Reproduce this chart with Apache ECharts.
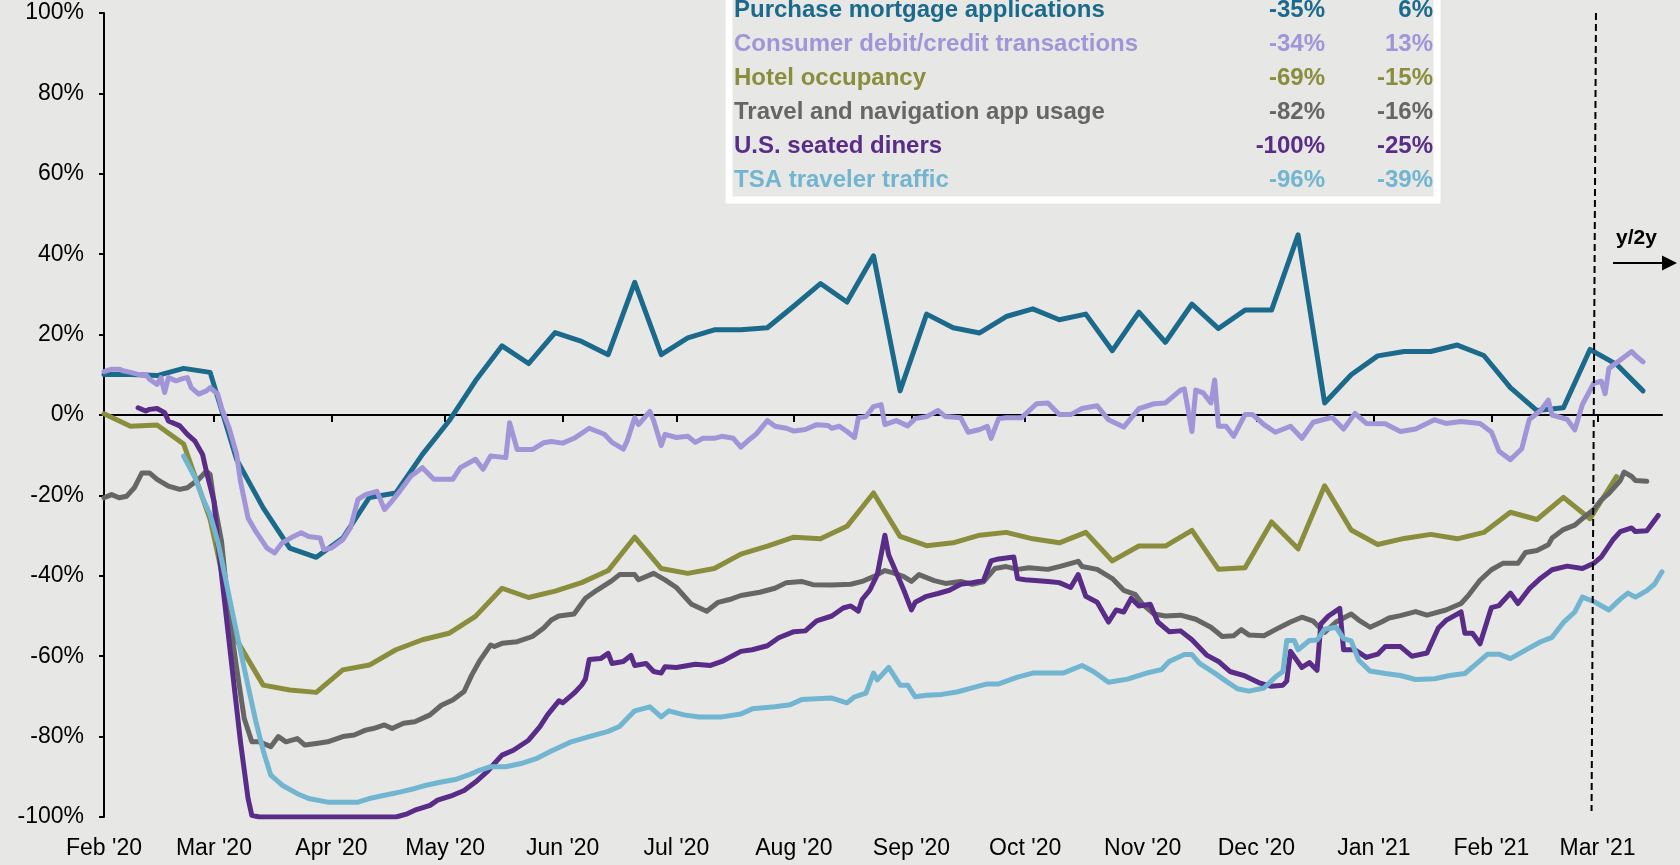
<!DOCTYPE html>
<html>
<head>
<meta charset="utf-8">
<script src="https://cdn.jsdelivr.net/npm/echarts@6/dist/echarts.min.js"></script>
<style>
  html, body { margin: 0; padding: 0; background: #e7e7e5; }
  #chart { width: 1680px; height: 865px; }
</style>
</head>
<body>
<div id="chart"></div>
<script>
// month ticks on the x axis
const monthTicks = ['2020-02-01', '2020-03-01', '2020-04-01', '2020-05-01', '2020-06-01', '2020-07-01',
  '2020-08-01', '2020-09-01', '2020-10-01', '2020-11-01', '2020-12-01', '2021-01-01', '2021-02-01', '2021-03-01'];

const seriesNames = ['Purchase mortgage applications', 'Consumer debit/credit transactions', 'Hotel occupancy',
  'Travel and navigation app usage', 'U.S. seated diners', 'TSA traveler traffic'];
// table columns: trough and latest
const troughs = [-35, -34, -69, -82, -100, -96];
const latest = [6, 13, -15, -16, -25, -39];

// weekly series
const weeklyDates = ['2020-02-01', '2020-02-08', '2020-02-15', '2020-02-22', '2020-02-29',
  '2020-03-07', '2020-03-14', '2020-03-21', '2020-03-28',
  '2020-04-04', '2020-04-11', '2020-04-18', '2020-04-25',
  '2020-05-02', '2020-05-09', '2020-05-16', '2020-05-23', '2020-05-30',
  '2020-06-06', '2020-06-13', '2020-06-20', '2020-06-27',
  '2020-07-04', '2020-07-11', '2020-07-18', '2020-07-25',
  '2020-08-01', '2020-08-08', '2020-08-15', '2020-08-22', '2020-08-29',
  '2020-09-05', '2020-09-12', '2020-09-19', '2020-09-26',
  '2020-10-03', '2020-10-10', '2020-10-17', '2020-10-24', '2020-10-31',
  '2020-11-07', '2020-11-14', '2020-11-21', '2020-11-28',
  '2020-12-05', '2020-12-12', '2020-12-19', '2020-12-26',
  '2021-01-02', '2021-01-09', '2021-01-16', '2021-01-23', '2021-01-30',
  '2021-02-06', '2021-02-13', '2021-02-20', '2021-02-27',
  '2021-03-06', '2021-03-13'];

const mortgage = [10.1, 10.1, 9.8, 11.6, 10.6,
  -11.1, -23.1, -33.1, -35.4,
  -30.6, -20.5, -19.4, -9.8,
  -1.5, 8.5, 17.2, 12.8, 20.5,
  18.3, 15.0, 33.0, 15.0,
  19.2, 21.2, 21.2, 21.7,
  27.1, 32.7, 28.1, 39.6, 6.0,
  25.1, 21.7, 20.4, 24.5,
  26.4, 23.7, 25.1, 16.0, 25.6,
  18.1, 27.6, 21.5, 26.1,
  26.1, 44.8, 3.0, 10.0,
  14.7, 15.8, 15.8, 17.4, 14.8,
  6.8, 1.1, 1.8, 16.3,
  12.6, 6.0];

const hotel = [0.3, -2.8, -2.5, -7.2, -26,
  -56, -67.2, -68.4, -69.0,
  -63.4, -62.2, -58.4, -55.9,
  -54.3, -50.1, -43.1, -45.4, -43.8,
  -41.7, -38.7, -30.4, -38.2,
  -39.4, -38.2, -34.6, -32.6,
  -30.4, -30.8, -27.7, -19.4, -30.2,
  -32.5, -31.8, -29.9, -29.2,
  -30.8, -31.8, -29.2, -36.3, -32.6,
  -32.6, -28.7, -38.4, -38.0,
  -26.6, -33.3, -17.6, -28.6,
  -32.2, -30.7, -29.7, -30.8, -29.2,
  -24.2, -26.0, -20.5, -25.8,
  -15.3];

// daily series, [date, value]
const consumer = [
  ['2020-2-1', 10.8], ['2020-2-3', 11.4], ['2020-2-5', 11.4], ['2020-2-6', 11.0], ['2020-2-8', 10.6],
  ['2020-2-10', 10.1], ['2020-2-12', 10.1], ['2020-2-13', 8.9], ['2020-2-15', 7.6], ['2020-2-16', 9.3],
  ['2020-2-17', 5.6], ['2020-2-18', 9.3], ['2020-2-20', 8.5], ['2020-2-22', 9.1], ['2020-2-23', 9.3],
  ['2020-2-24', 6.8], ['2020-2-26', 5.2], ['2020-2-28', 6.0], ['2020-2-29', 6.8], ['2020-3-2', 5.2],
  ['2020-3-3', 1.8], ['2020-3-5', -3.2], ['2020-3-7', -9.8], ['2020-3-8', -16.5], ['2020-3-10', -25.6],
  ['2020-3-12', -28.9], ['2020-3-15', -33.1], ['2020-3-17', -34.3], ['2020-3-19', -31.8], ['2020-3-22', -30.2],
  ['2020-3-24', -29.3], ['2020-3-26', -30.2], ['2020-3-29', -30.6], ['2020-3-30', -33.5], ['2020-4-1', -33.1],
  ['2020-4-4', -31.0], ['2020-4-6', -28.1], ['2020-4-8', -21.0], ['2020-4-10', -19.8], ['2020-4-13', -19.0],
  ['2020-4-15', -23.5], ['2020-4-17', -21.4], ['2020-4-19', -19.0], ['2020-4-22', -15.2], ['2020-4-25', -13.1],
  ['2020-4-28', -16.0], ['2020-5-3', -16.0], ['2020-5-5', -13.1], ['2020-5-9', -11.0], ['2020-5-11', -13.5],
  ['2020-5-13', -10.2], ['2020-5-17', -10.6], ['2020-5-18', -1.9], ['2020-5-20', -8.6], ['2020-5-24', -8.6],
  ['2020-5-27', -6.9], ['2020-5-29', -6.6], ['2020-6-1', -7.0], ['2020-6-4', -5.8], ['2020-6-8', -3.3],
  ['2020-6-12', -4.8], ['2020-6-14', -6.8], ['2020-6-17', -8.5], ['2020-6-18', -6.5], ['2020-6-20', -0.7],
  ['2020-6-21', -2.4], ['2020-6-24', 0.9], ['2020-6-25', -1.4], ['2020-6-27', -7.6], ['2020-6-28', -4.8],
  ['2020-7-1', -5.6], ['2020-7-4', -5.3], ['2020-7-6', -6.8], ['2020-7-8', -5.8], ['2020-7-11', -5.8],
  ['2020-7-13', -5.3], ['2020-7-16', -5.8], ['2020-7-18', -8.0], ['2020-7-20', -6.3], ['2020-7-22', -4.8],
  ['2020-7-25', -1.4], ['2020-7-27', -2.8], ['2020-7-30', -3.3], ['2020-8-1', -4.0], ['2020-8-4', -3.6],
  ['2020-8-7', -2.4], ['2020-8-10', -2.6], ['2020-8-11', -3.3], ['2020-8-13', -2.8], ['2020-8-15', -4.1],
  ['2020-8-17', -5.6], ['2020-8-18', -0.7], ['2020-8-20', -0.4], ['2020-8-22', 2.1], ['2020-8-24', 2.6],
  ['2020-8-25', -2.4], ['2020-8-28', -1.4], ['2020-8-31', -2.7], ['2020-9-2', -0.9], ['2020-9-5', -0.4],
  ['2020-9-8', 1.1], ['2020-9-10', -0.4], ['2020-9-14', -0.7], ['2020-9-16', -4.3], ['2020-9-19', -3.6],
  ['2020-9-21', -2.8], ['2020-9-22', -5.8], ['2020-9-24', -0.9], ['2020-9-26', -0.7], ['2020-9-30', -0.7],
  ['2020-10-4', 2.8], ['2020-10-7', 3.0], ['2020-10-10', 0.1], ['2020-10-13', 0.1], ['2020-10-16', 1.6],
  ['2020-10-20', 2.3], ['2020-10-23', -1.2], ['2020-10-27', -3.0], ['2020-10-31', 1.6], ['2020-11-4', 2.8],
  ['2020-11-7', 3.0], ['2020-11-11', 6.2], ['2020-11-12', 6.5], ['2020-11-14', -4.1], ['2020-11-15', 6.2],
  ['2020-11-17', 5.5], ['2020-11-19', 3.0], ['2020-11-20', 8.7], ['2020-11-21', -2.8], ['2020-11-23', -2.8],
  ['2020-11-25', -5.3], ['2020-11-28', 0.1], ['2020-11-30', 0.1], ['2020-12-3', -2.4], ['2020-12-6', -4.3],
  ['2020-12-10', -2.8], ['2020-12-13', -5.8], ['2020-12-16', -1.8], ['2020-12-21', -0.6], ['2020-12-24', -3.5],
  ['2020-12-27', 0.4], ['2020-12-30', -2.1], ['2021-1-4', -2.2], ['2021-1-8', -4.1], ['2021-1-12', -3.5],
  ['2021-1-17', -1.2], ['2021-1-20', -2.1], ['2021-1-24', -1.6], ['2021-1-29', -2.1], ['2021-2-1', -4.2],
  ['2021-2-3', -9.0], ['2021-2-6', -11.1], ['2021-2-9', -8.4], ['2021-2-11', -1.1], ['2021-2-14', 1.1],
  ['2021-2-16', 3.7], ['2021-2-17', 0.0], ['2021-2-21', -1.1], ['2021-2-23', -3.7], ['2021-2-25', 2.6],
  ['2021-2-28', 7.9], ['2021-3-2', 8.4], ['2021-3-3', 5.3], ['2021-3-4', 11.6], ['2021-3-7', 13.7],
  ['2021-3-10', 15.8], ['2021-3-11', 14.8], ['2021-3-13', 13.2]
];

const travel = [
  ['2020-2-1', -20.6], ['2020-2-3', -19.8], ['2020-2-5', -20.6], ['2020-2-7', -20.2], ['2020-2-9', -18.1],
  ['2020-2-11', -14.4], ['2020-2-13', -14.4], ['2020-2-15', -16.0], ['2020-2-18', -17.7], ['2020-2-21', -18.5],
  ['2020-2-23', -18.1], ['2020-2-26', -16.0], ['2020-2-28', -14.0], ['2020-2-29', -14.8], ['2020-3-1', -21.4],
  ['2020-3-3', -31.4], ['2020-3-5', -49.7], ['2020-3-7', -63.0], ['2020-3-9', -75.5], ['2020-3-11', -81.3],
  ['2020-3-13', -81.3], ['2020-3-16', -82.5], ['2020-3-18', -80.0], ['2020-3-20', -81.3], ['2020-3-23', -80.5],
  ['2020-3-25', -82.1], ['2020-3-28', -81.7], ['2020-3-31', -81.3], ['2020-4-4', -80.0], ['2020-4-7', -79.6],
  ['2020-4-10', -78.4], ['2020-4-12', -78.0], ['2020-4-15', -77.1], ['2020-4-17', -78.0], ['2020-4-20', -76.7],
  ['2020-4-23', -76.3], ['2020-4-27', -74.6], ['2020-4-30', -72.2], ['2020-5-3', -70.9], ['2020-5-6', -68.8],
  ['2020-5-8', -64.7], ['2020-5-10', -61.3], ['2020-5-13', -57.2], ['2020-5-14', -57.6], ['2020-5-16', -56.8],
  ['2020-5-20', -56.4], ['2020-5-24', -55.1], ['2020-5-27', -53.0], ['2020-5-29', -51.0], ['2020-5-31', -50.0],
  ['2020-6-4', -49.5], ['2020-6-7', -45.6], ['2020-6-10', -43.6], ['2020-6-14', -41.2], ['2020-6-16', -39.7],
  ['2020-6-20', -39.7], ['2020-6-21', -41.0], ['2020-6-25', -39.4], ['2020-6-28', -41.0], ['2020-7-1', -42.9],
  ['2020-7-5', -47.1], ['2020-7-9', -48.8], ['2020-7-12', -46.6], ['2020-7-15', -45.9], ['2020-7-18', -44.9],
  ['2020-7-23', -44.1], ['2020-7-27', -43.1], ['2020-7-30', -41.7], ['2020-8-3', -41.4], ['2020-8-6', -42.2],
  ['2020-8-11', -42.3], ['2020-8-16', -42.1], ['2020-8-19', -41.4], ['2020-8-22', -40.2], ['2020-8-25', -38.7],
  ['2020-8-27', -39.2], ['2020-8-30', -40.2], ['2020-9-1', -41.4], ['2020-9-3', -39.7], ['2020-9-7', -41.2],
  ['2020-9-10', -41.9], ['2020-9-14', -41.4], ['2020-9-17', -42.1], ['2020-9-20', -41.5], ['2020-9-23', -38.2],
  ['2020-9-26', -37.7], ['2020-9-29', -38.4], ['2020-10-2', -38.0], ['2020-10-7', -38.4], ['2020-10-10', -37.7],
  ['2020-10-15', -36.4], ['2020-10-16', -37.7], ['2020-10-20', -38.4], ['2020-10-24', -40.7], ['2020-10-27', -43.6],
  ['2020-10-30', -44.6], ['2020-11-1', -47.1], ['2020-11-4', -49.5], ['2020-11-7', -50.0], ['2020-11-11', -49.8],
  ['2020-11-15', -50.8], ['2020-11-19', -52.8], ['2020-11-22', -55.1], ['2020-11-25', -54.9], ['2020-11-27', -53.4],
  ['2020-11-29', -54.7], ['2020-12-3', -54.9], ['2020-12-7', -52.9], ['2020-12-10', -51.5], ['2020-12-13', -50.3],
  ['2020-12-16', -51.3], ['2020-12-19', -54.1], ['2020-12-22', -51.5], ['2020-12-26', -49.5], ['2020-12-28', -51.0],
  ['2020-12-31', -52.8], ['2021-1-3', -51.5], ['2021-1-5', -50.5], ['2021-1-8', -49.9], ['2021-1-12', -48.9],
  ['2021-1-15', -49.8], ['2021-1-20', -48.5], ['2021-1-24', -46.9], ['2021-1-26', -44.8], ['2021-1-29', -41.1],
  ['2021-2-1', -38.5], ['2021-2-4', -36.9], ['2021-2-8', -36.9], ['2021-2-10', -34.2], ['2021-2-13', -33.7],
  ['2021-2-16', -32.3], ['2021-2-17', -30.6], ['2021-2-20', -28.5], ['2021-2-23', -27.4], ['2021-2-25', -25.8],
  ['2021-2-28', -23.5], ['2021-3-2', -21.1], ['2021-3-4', -19.5], ['2021-3-7', -16.3], ['2021-3-8', -14.2],
  ['2021-3-10', -15.3], ['2021-3-11', -16.3], ['2021-3-14', -16.5]
];

const diners = [
  ['2020-2-10', 1.8], ['2020-2-12', 1.0], ['2020-2-13', 1.4], ['2020-2-15', 1.6], ['2020-2-17', 0.6],
  ['2020-2-18', -1.5], ['2020-2-21', -2.7], ['2020-2-23', -4.8], ['2020-2-25', -6.5], ['2020-2-27', -9.8],
  ['2020-2-28', -14.0], ['2020-3-1', -21.4], ['2020-3-2', -31.4], ['2020-3-4', -48.0], ['2020-3-6', -64.7],
  ['2020-3-8', -81.3], ['2020-3-10', -95.4], ['2020-3-11', -99.6], ['2020-3-13', -100], ['2020-4-18', -100],
  ['2020-4-21', -99.2], ['2020-4-23', -98.3], ['2020-4-27', -97.1], ['2020-4-29', -95.8], ['2020-5-3', -94.6],
  ['2020-5-6', -93.4], ['2020-5-9', -91.3], ['2020-5-12', -88.8], ['2020-5-14', -86.7], ['2020-5-16', -84.6],
  ['2020-5-19', -83.4], ['2020-5-23', -80.9], ['2020-5-26', -77.5], ['2020-5-28', -74.6], ['2020-5-31', -71.1],
  ['2020-6-1', -71.6], ['2020-6-4', -69.2], ['2020-6-6', -67.2], ['2020-6-7', -65.7], ['2020-6-8', -60.8],
  ['2020-6-11', -60.6], ['2020-6-13', -59.3], ['2020-6-14', -61.8], ['2020-6-17', -61.3], ['2020-6-19', -59.8],
  ['2020-6-20', -62.3], ['2020-6-23', -61.8], ['2020-6-25', -63.8], ['2020-6-27', -64.2], ['2020-6-28', -62.6],
  ['2020-7-1', -62.8], ['2020-7-6', -62.0], ['2020-7-10', -62.3], ['2020-7-13', -61.3], ['2020-7-18', -58.8],
  ['2020-7-21', -58.4], ['2020-7-25', -57.4], ['2020-7-28', -55.4], ['2020-8-1', -53.9], ['2020-8-4', -53.7],
  ['2020-8-7', -51.2], ['2020-8-11', -50.0], ['2020-8-14', -48.0], ['2020-8-16', -47.5], ['2020-8-18', -48.8],
  ['2020-8-19', -45.9], ['2020-8-21', -43.6], ['2020-8-23', -39.7], ['2020-8-25', -29.9], ['2020-8-26', -34.8],
  ['2020-8-28', -39.2], ['2020-8-30', -43.6], ['2020-9-1', -48.5], ['2020-9-2', -46.6], ['2020-9-5', -45.1],
  ['2020-9-8', -44.4], ['2020-9-11', -43.6], ['2020-9-14', -42.1], ['2020-9-17', -41.7], ['2020-9-20', -41.2],
  ['2020-9-22', -36.3], ['2020-9-24', -35.8], ['2020-9-28', -35.3], ['2020-9-29', -40.7], ['2020-10-1', -41.0],
  ['2020-10-7', -41.4], ['2020-10-10', -41.7], ['2020-10-13', -42.9], ['2020-10-15', -39.7], ['2020-10-17', -45.1],
  ['2020-10-20', -46.6], ['2020-10-23', -51.5], ['2020-10-25', -48.5], ['2020-10-27', -49.0], ['2020-10-29', -45.6],
  ['2020-10-31', -47.5], ['2020-11-3', -47.1], ['2020-11-5', -51.5], ['2020-11-8', -53.9], ['2020-11-11', -53.7],
  ['2020-11-14', -55.9], ['2020-11-18', -59.8], ['2020-11-21', -61.3], ['2020-11-24', -63.8], ['2020-11-28', -64.9],
  ['2020-12-2', -66.7], ['2020-12-5', -67.5], ['2020-12-8', -67.2], ['2020-12-9', -66.2], ['2020-12-10', -58.8],
  ['2020-12-13', -62.8], ['2020-12-15', -61.6], ['2020-12-17', -63.5], ['2020-12-18', -52.0], ['2020-12-20', -50.0],
  ['2020-12-23', -48.1], ['2020-12-24', -58.4], ['2020-12-27', -58.4], ['2020-12-30', -60.3], ['2021-1-2', -59.5],
  ['2021-1-4', -57.6], ['2021-1-8', -57.6], ['2021-1-11', -60.0], ['2021-1-15', -59.2], ['2021-1-18', -53.0],
  ['2021-1-20', -51.1], ['2021-1-24', -49.0], ['2021-1-25', -54.3], ['2021-1-27', -54.3], ['2021-1-29', -56.9],
  ['2021-2-1', -47.9], ['2021-2-3', -47.4], ['2021-2-6', -44.3], ['2021-2-8', -46.9], ['2021-2-11', -43.2],
  ['2021-2-14', -40.6], ['2021-2-17', -38.5], ['2021-2-21', -37.6], ['2021-2-25', -38.2], ['2021-2-28', -36.9],
  ['2021-3-2', -35.3], ['2021-3-5', -31.1], ['2021-3-7', -29.0], ['2021-3-10', -28.1], ['2021-3-11', -29.0],
  ['2021-3-14', -28.8], ['2021-3-17', -25.0]
];

const tsa = [
  ['2020-2-22', -10.2], ['2020-2-25', -15.6], ['2020-2-27', -20.6], ['2020-2-29', -24.8], ['2020-3-2', -31.4],
  ['2020-3-4', -40.5], ['2020-3-6', -49.7], ['2020-3-8', -58.6], ['2020-3-10', -67.4], ['2020-3-12', -76.0],
  ['2020-3-14', -83.5], ['2020-3-16', -89.6], ['2020-3-19', -92.1], ['2020-3-23', -94.2], ['2020-3-26', -95.4],
  ['2020-3-31', -96.3], ['2020-4-8', -96.3], ['2020-4-11', -95.4], ['2020-4-15', -94.6], ['2020-4-19', -93.8],
  ['2020-4-23', -92.9], ['2020-4-26', -92.1], ['2020-4-30', -91.3], ['2020-5-4', -90.6], ['2020-5-7', -89.6],
  ['2020-5-10', -88.4], ['2020-5-13', -87.5], ['2020-5-17', -87.5], ['2020-5-21', -86.7], ['2020-5-25', -85.5],
  ['2020-5-29', -83.6], ['2020-6-3', -81.4], ['2020-6-8', -80.0], ['2020-6-13', -78.7], ['2020-6-16', -77.5],
  ['2020-6-18', -75.5], ['2020-6-20', -73.6], ['2020-6-24', -72.6], ['2020-6-27', -75.1], ['2020-6-29', -73.6],
  ['2020-7-3', -74.6], ['2020-7-7', -75.1], ['2020-7-13', -75.1], ['2020-7-18', -74.4], ['2020-7-21', -73.1],
  ['2020-7-27', -72.6], ['2020-7-31', -72.1], ['2020-8-3', -70.8], ['2020-8-11', -70.4], ['2020-8-15', -71.6],
  ['2020-8-17', -70.1], ['2020-8-20', -69.2], ['2020-8-22', -64.2], ['2020-8-23', -65.9], ['2020-8-26', -62.8],
  ['2020-8-29', -67.2], ['2020-8-31', -67.2], ['2020-9-2', -70.1], ['2020-9-5', -69.7], ['2020-9-9', -69.5],
  ['2020-9-13', -68.9], ['2020-9-17', -67.9], ['2020-9-21', -66.9], ['2020-9-24', -66.9], ['2020-9-29', -65.2],
  ['2020-10-3', -64.2], ['2020-10-11', -64.2], ['2020-10-16', -62.3], ['2020-10-19', -63.8], ['2020-10-23', -66.5],
  ['2020-10-28', -65.7], ['2020-11-2', -64.2], ['2020-11-6', -63.3], ['2020-11-8', -61.3], ['2020-11-12', -59.6],
  ['2020-11-14', -59.6], ['2020-11-16', -61.8], ['2020-11-20', -64.2], ['2020-11-23', -66.2], ['2020-11-26', -68.1],
  ['2020-11-29', -68.7], ['2020-12-3', -67.9], ['2020-12-6', -65.2], ['2020-12-8', -63.8], ['2020-12-9', -56.1],
  ['2020-12-11', -56.1], ['2020-12-12', -58.4], ['2020-12-15', -56.1], ['2020-12-17', -56.0], ['2020-12-19', -53.3],
  ['2020-12-22', -52.8], ['2020-12-24', -55.6], ['2020-12-26', -56.2], ['2020-12-28', -61.0], ['2020-12-31', -63.7],
  ['2021-1-4', -64.3], ['2021-1-8', -64.8], ['2021-1-12', -65.8], ['2021-1-17', -65.6], ['2021-1-21', -64.8],
  ['2021-1-25', -64.3], ['2021-1-27', -62.7], ['2021-1-31', -59.5], ['2021-2-3', -59.5], ['2021-2-6', -60.6],
  ['2021-2-10', -58.5], ['2021-2-14', -56.4], ['2021-2-17', -55.3], ['2021-2-20', -51.6], ['2021-2-23', -49.0],
  ['2021-2-25', -45.3], ['2021-2-28', -46.4], ['2021-3-4', -48.5], ['2021-3-7', -45.8], ['2021-3-9', -44.3],
  ['2021-3-11', -45.3], ['2021-3-14', -43.7], ['2021-3-16', -42.1], ['2021-3-18', -39.0]
];

const colors = ['#1b6a8c', '#a195d8', '#898d3c', '#666666', '#582c87', '#71b5d0'];
const FONT = '"Liberation Sans", Arial, sans-serif';

const seriesData = [
  weeklyDates.map((d, i) => [d, mortgage[i]]),
  consumer,
  hotel.map((v, i) => [weeklyDates[i], v]),
  travel,
  diners,
  tsa
];

const chart = echarts.init(document.getElementById('chart'));

const series = seriesNames.map((name, i) => ({
  name: name,
  type: 'line',
  symbol: 'none',
  data: seriesData[i],
  lineStyle: { color: colors[i], width: 5, join: 'round', cap: 'round' },
  itemStyle: { color: colors[i] }
}));

// dashed separator before the y/2y period
series[0].markLine = {
  silent: true,
  symbol: 'none',
  label: { show: false },
  lineStyle: { color: '#000', width: 2, type: [7, 4] },
  data: [[{ coord: ['2021-02-28 14:00', 100] }, { coord: ['2021-02-27 10:00', -98.5] }]]
};

const option = {
  animation: false,
  backgroundColor: '#e7e7e5',
  textStyle: { fontFamily: FONT },
  grid: { left: 104, right: 18, top: 13, bottom: 48 },
  legend: {
    orient: 'vertical',
    left: 729,
    top: -7,
    padding: [0, 4, 3, 0],
    itemGap: 0,
    itemWidth: 0,
    itemHeight: 34,
    icon: 'none',
    selectedMode: false,
    borderColor: '#ffffff',
    borderWidth: 7,
    data: seriesNames.map((n, i) => ({ name: n, textStyle: { color: colors[i] } })),
    formatter: function (name) {
      const i = seriesNames.indexOf(name);
      return '{n|' + name + '}{a|' + troughs[i] + '%}{b|' + latest[i] + '%}';
    },
    textStyle: {
      fontSize: 24,
      fontWeight: 'bold',
      fontFamily: FONT,
      lineHeight: 34,
      rich: {
        n: { width: 441, fontSize: 24, fontWeight: 'bold', fontFamily: FONT, lineHeight: 34 },
        a: { width: 150, align: 'right', fontSize: 24, fontWeight: 'bold', fontFamily: FONT, lineHeight: 34 },
        b: { width: 108, align: 'right', fontSize: 24, fontWeight: 'bold', fontFamily: FONT, lineHeight: 34 }
      }
    }
  },
  xAxis: [
    {
      type: 'time',
      min: '2020-02-01',
      max: '2021-03-18',
      position: 'bottom',
      axisLine: { show: false, onZero: false },
      axisTick: { show: false },
      splitLine: { show: false },
      axisLabel: {
        fontSize: 23,
        color: '#000',
        fontFamily: FONT,
        margin: 20,
        formatter: "{MMM} '{yy}",
        customValues: monthTicks
      }
    },
    {
      type: 'time',
      min: '2020-02-01',
      max: '2021-03-18',
      position: 'top',
      axisLine: { show: true, onZero: true, lineStyle: { color: '#000', width: 2 } },
      axisTick: { show: true, inside: true, length: 7, lineStyle: { color: '#000', width: 2 }, customValues: monthTicks },
      axisLabel: { show: false },
      splitLine: { show: false }
    }
  ],
  yAxis: {
    type: 'value',
    min: -100,
    max: 100,
    interval: 20,
    axisLine: { show: true, onZero: false, lineStyle: { color: '#000', width: 2 } },
    axisTick: { show: true, length: 5, lineStyle: { color: '#000', width: 2 } },
    splitLine: { show: false },
    axisLabel: { formatter: '{value}%', fontSize: 23, color: '#000', fontFamily: FONT, margin: 20 }
  },
  graphic: [
    { type: 'text', left: 1616, top: 228, style: { text: 'y/2y', font: 'bold 21px ' + FONT, fill: '#000' } },
    { type: 'line', shape: { x1: 1613, y1: 263, x2: 1664, y2: 263 }, style: { stroke: '#000', lineWidth: 2 } },
    { type: 'polygon', shape: { points: [[1662, 255.5], [1677, 263], [1662, 270.5]] }, style: { fill: '#000' } }
  ],
  series: series
};

chart.setOption(option);
</script>
</body>
</html>
